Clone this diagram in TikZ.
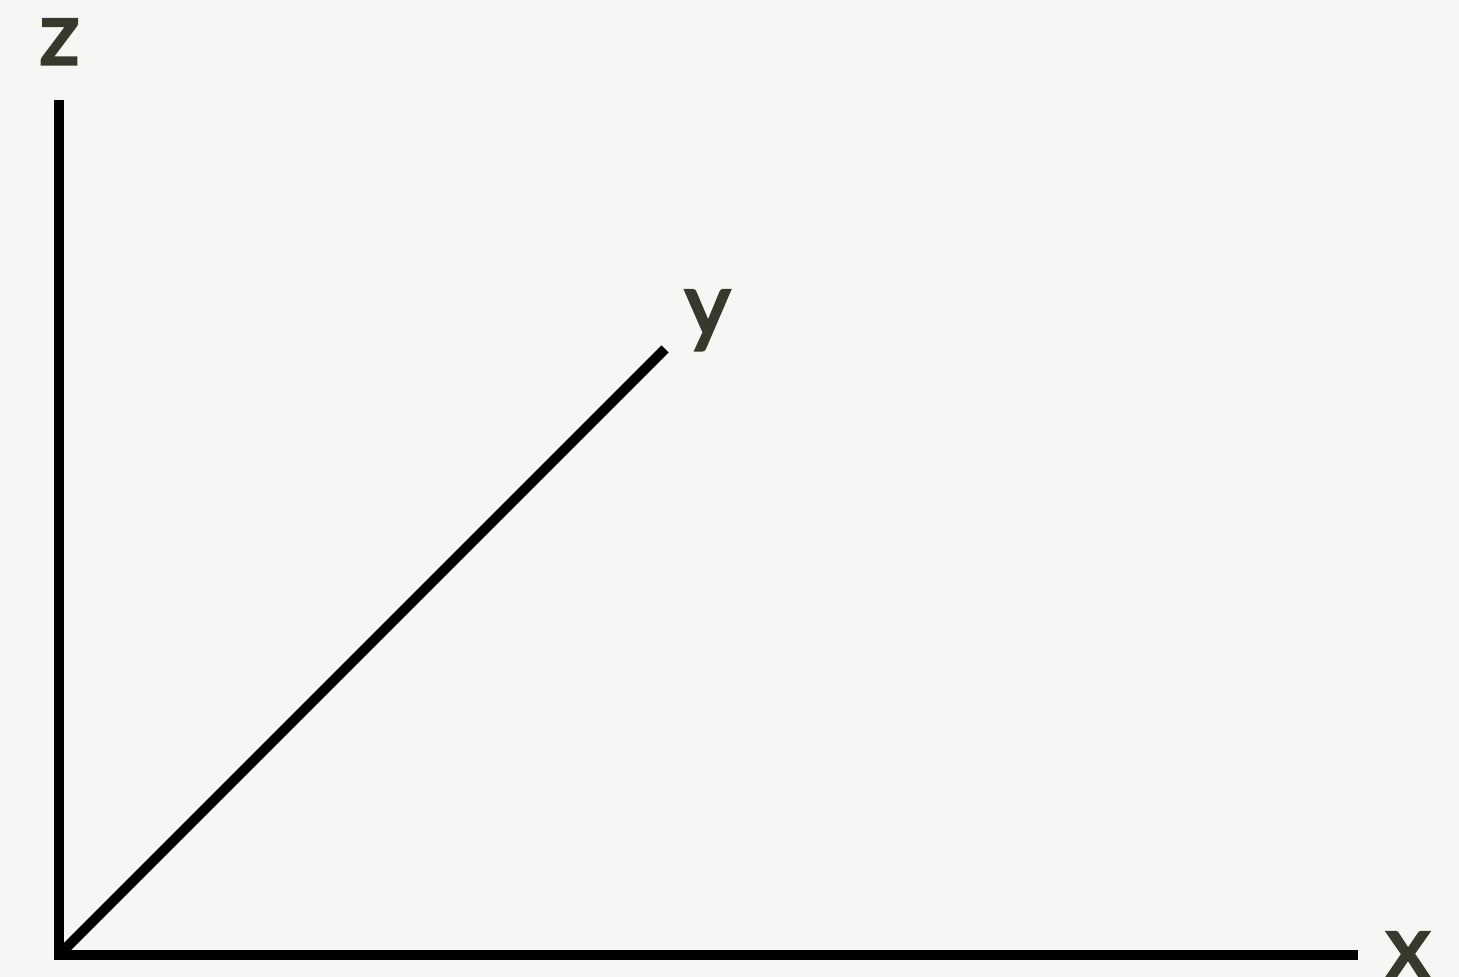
\documentclass[tikz,border=0pt]{standalone}
\usepackage{fontspec}
\setmainfont{Lato}[FakeBold=3.5]
\definecolor{paper}{HTML}{F6F6F4}
\definecolor{ink}{HTML}{38382C}
\tikzset{
  axis/.style={line width=0.1cm, black, line join=miter},
  lbl/.style={anchor=base, inner sep=0, text=ink, font=\fontsize{25}{30}\selectfont}
}
\begin{document}
\begin{tikzpicture}[x=0.01cm,y=-0.01cm]

  \fill[paper] (0,0) rectangle (1459,977);
  \useasboundingbox (0,0) rectangle (1459,977);

  % axes
  \coordinate (O) at (59,955);
  \coordinate (zend) at (59,100);
  \coordinate (xend) at (1358,955);
  \coordinate (yend) at (665,349);
  \draw[axis] (zend) -- (O) -- (xend);
  \draw[axis] (O) -- (yend);

  % labels
  \node[lbl] (zlab) at (59.5,64) {z};
  \node[lbl] (ylab) at (707.5,335) {y};
  \node[lbl] (xlab) at (1408,977) {x};

\end{tikzpicture}
\end{document}
